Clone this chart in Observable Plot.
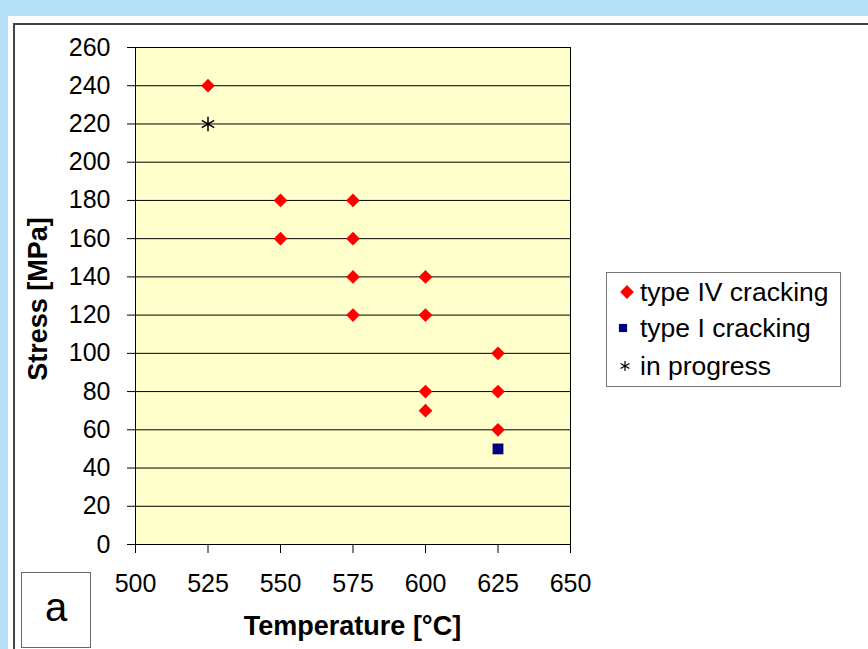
<!DOCTYPE html>
<html>
<head>
<meta charset="utf-8">
<script src="https://cdn.jsdelivr.net/npm/d3@7"></script>
<script src="https://cdn.jsdelivr.net/npm/@observablehq/plot@0.6"></script>
<style>
  html, body { margin: 0; padding: 0; }
  body { width: 868px; height: 649px; background: #b3e0f5; position: relative; overflow: hidden; font-family: "Liberation Sans", Arial, sans-serif; }
  .abs { position: absolute; }
  #panel { left: 8px; top: 16px; right: 0; bottom: 0; background: #ffffff; }
  #frameline { left: 13px; top: 23px; right: 0; bottom: 0; border-top: 2px solid #444; border-left: 2px solid #444; }
  #chart { left: 0; top: 0; }
  .title { font-weight: bold; font-size: 27px; color: #000; white-space: nowrap; }
  #legend { left: 606px; top: 272px; width: 233px; height: 113px; border: 1px solid #777; background: #fff; }
  .lrow { position: absolute; left: 0; font-size: 26.5px; white-space: nowrap; line-height: 30px; height: 30px; }
  .lrow svg { position: absolute; left: 0; top: 0; }
  .lrow span { position: absolute; left: 33px; top: 0; }
  #abox { left: 21px; top: 572px; width: 68px; height: 74px; border: 1px solid #666; background: #fff; font-size: 40px; text-align: center; line-height: 68px; }
</style>
</head>
<body>
<div id="panel" class="abs"></div>
<div id="frameline" class="abs"></div>
<div id="chart" class="abs"></div>
<div id="xtitle" class="abs title">Temperature [°C]</div>
<div id="ytitle" class="abs title">Stress [MPa]</div>
<div id="legend" class="abs"></div>
<div id="abox" class="abs">a</div>
<script>
// ---- data ----
const typeIVTemp   = [525, 550, 550, 575, 575, 575, 575, 600, 600, 600, 600, 625, 625, 625];
const typeIVStress = [240, 180, 160, 180, 160, 140, 120, 140, 120, 80, 70, 100, 80, 60];
const typeITemp    = [625];
const typeIStress  = [50];
const progressTemp   = [525];
const progressStress = [220];
const xTicks = [500, 525, 550, 575, 600, 625, 650];
const yTicks = [0, 20, 40, 60, 80, 100, 120, 140, 160, 180, 200, 220, 240, 260];
const seriesNames = ["type IV cracking", "type I cracking", "in progress"];

const toRows = (xs, ys) => xs.map((x, i) => ({temp: x, stress: ys[i]}));
const typeIV = toRows(typeIVTemp, typeIVStress);
const typeI = toRows(typeITemp, typeIStress);
const progress = toRows(progressTemp, progressStress);

const mL = 135, mR = 298, mT = 47, mB = 105, W = 868, H = 649;

const plot = Plot.plot({
  width: W, height: H,
  marginLeft: mL, marginRight: mR, marginTop: mT, marginBottom: mB,
  style: {background: "transparent", fontFamily: "'Liberation Sans', Arial, sans-serif", fontSize: "25px", color: "#000"},
  x: {domain: [500, 650], ticks: xTicks},
  y: {domain: [0, 260], ticks: yTicks},
  marks: [
    Plot.frame({fill: "#ffffcc", stroke: null}),
    Plot.ruleY(yTicks, {stroke: "#000", strokeWidth: 1}),
    Plot.ruleX([500, 650], {stroke: "#000", strokeWidth: 1}),
    Plot.axisY({ticks: yTicks, tickSize: 8, tickPadding: 17, label: null, fill: "#000", stroke: "#000", strokeOpacity: 1}),
    Plot.axisX({ticks: xTicks, tickSize: 9, tickPadding: 21, label: null, fill: "#000", stroke: "#000", strokeOpacity: 1}),
    Plot.dot(typeIV, {x: "temp", y: "stress", symbol: "diamond2", fill: "#ff0000", stroke: null, r: 6.2}),
    Plot.dot(typeI, {x: "temp", y: "stress", symbol: "square", fill: "#000080", stroke: null, r: 6.1}),
    Plot.dot(progress, {x: "temp", y: "stress", symbol: "asterisk", stroke: "#000", fill: "none", strokeWidth: 1.5, r: 6.8})
  ]
});
document.getElementById("chart").appendChild(plot);

// titles positioned relative to plot frame
const xt = document.getElementById("xtitle");
const cx = (mL + (W - mR)) / 2;
xt.style.left = (cx - 150) + "px";
xt.style.width = "300px";
xt.style.textAlign = "center";
xt.style.top = "611px";
xt.style.lineHeight = "30px";

const yt = document.getElementById("ytitle");
const cy = (mT + (H - mB)) / 2 + 3;
yt.style.width = "240px";
yt.style.textAlign = "center";
yt.style.lineHeight = "30px";
yt.style.left = (38 - 120) + "px";
yt.style.top = (cy - 15) + "px";
yt.style.transform = "rotate(-90deg)";

// legend
const legend = document.getElementById("legend");
const legendSymbols = [
  {type: d3.symbolDiamond2, r: 6.2, fill: "#ff0000", stroke: "none", sw: 0},
  {type: d3.symbolSquare, r: 4.6, fill: "#000080", stroke: "none", sw: 0},
  {type: d3.symbolAsterisk, r: 4.8, fill: "none", stroke: "#000", sw: 1.2}
];
const rowTops = [4, 40, 78];
const symX = [20, 16, 18];
seriesNames.forEach((name, i) => {
  const row = document.createElement("div");
  row.className = "lrow";
  row.style.top = rowTops[i] + "px";
  const s = legendSymbols[i];
  const path = d3.symbol(s.type, Math.PI * s.r * s.r)();
  row.innerHTML = `<svg width="32" height="30"><path d="${path}" transform="translate(${symX[i]},15)" fill="${s.fill}" stroke="${s.stroke}" stroke-width="${s.sw}"/></svg><span>${name}</span>`;
  legend.appendChild(row);
});
</script>
</body>
</html>
